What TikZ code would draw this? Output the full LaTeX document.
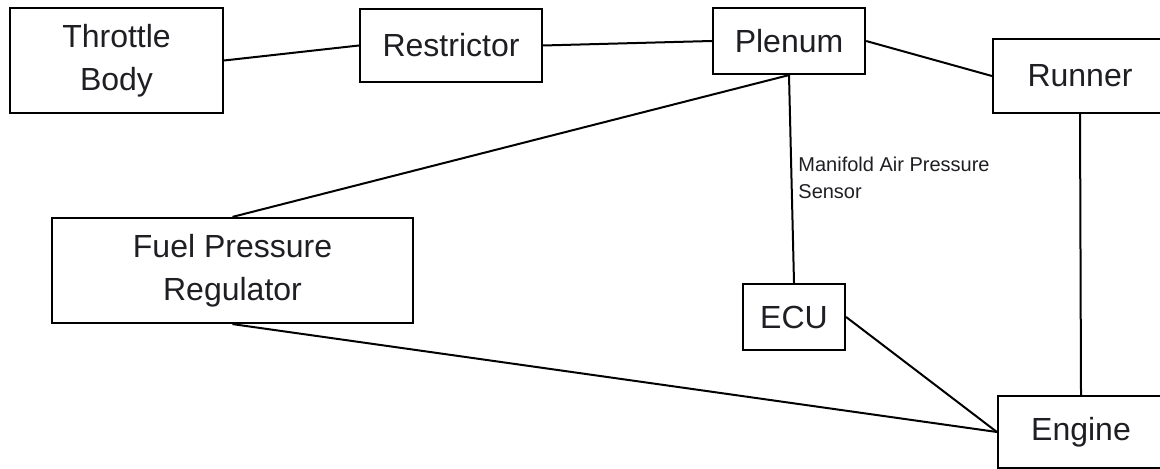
\documentclass[tikz,border=0pt]{standalone}
\usepackage{fontspec}
\setmainfont{Liberation Sans}
\definecolor{txt}{RGB}{30,30,35}
\begin{document}
\begin{tikzpicture}[x=0.5pt,y=-0.5pt,
  box/.style={draw=black,line width=1.1pt,inner sep=0pt,text=txt,align=center,
    font=\fontsize{16}{21.5}\selectfont},
  link/.style={draw=black,line width=1pt}]
\useasboundingbox (0,0) rectangle (1160,469);
\clip (0,0) rectangle (1160,469);
\node[box,minimum width=213*0.5pt,minimum height=105*0.5pt] (tb) at (116.5,60.5) {Throttle\\Body};
\node[box,minimum width=182*0.5pt,minimum height=73*0.5pt] (res) at (451,45.5) {Restrictor};
\node[box,minimum width=152*0.5pt,minimum height=66*0.5pt] (ple) at (789,41) {Plenum};
\node[box,minimum width=174*0.5pt,minimum height=74*0.5pt] (run) at (1080,76) {Runner};
\node[box,minimum width=361*0.5pt,minimum height=105*0.5pt] (fpr) at (232.5,270.5) {Fuel Pressure\\Regulator};
\node[box,minimum width=102*0.5pt,minimum height=66*0.5pt] (ecu) at (794,317) {ECU};
\node[box,minimum width=166*0.5pt,minimum height=72*0.5pt] (eng) at (1081,432) {Engine};
\node[anchor=north west,inner sep=0pt,align=left,text=txt,
  font=\fontsize{10}{13.5}\selectfont] (map) at (798,157) {Manifold Air Pressure\\Sensor};
\draw[link] (tb.east) -- (res.west);
\draw[link] (res.east) -- (ple.west);
\draw[link] (ple.east) -- (run.west);
\draw[link] (ple.south) -- (fpr.north);
\draw[link] (ple.south) -- (ecu.north);
\draw[link] (run.south) -- (eng.north);
\draw[link] (fpr.south) -- (eng.west);
\draw[link] (ecu.east) -- (eng.west);
\end{tikzpicture}
\end{document}
